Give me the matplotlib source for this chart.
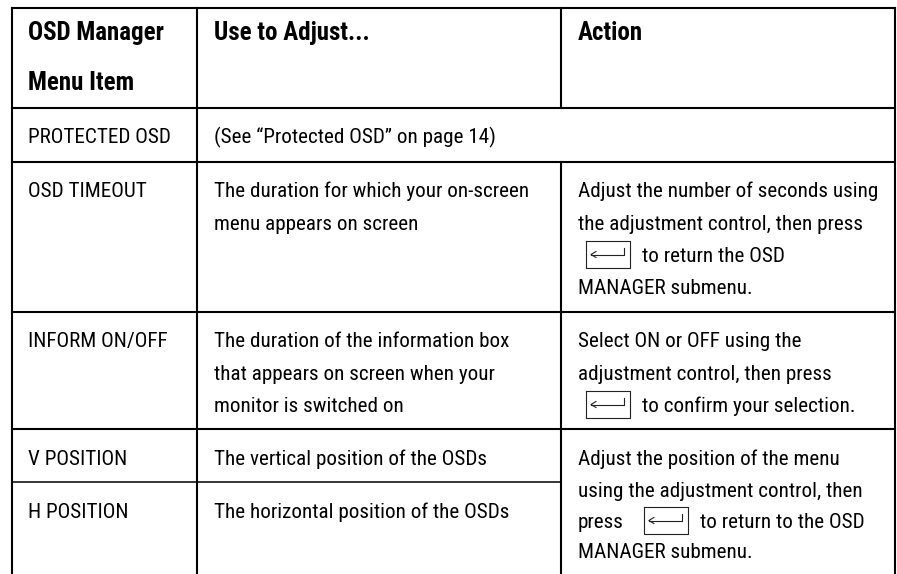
import matplotlib
matplotlib.use("Agg")
import matplotlib.pyplot as plt
from matplotlib import font_manager as fm

# ---------------- data ----------------
header_col1 = ["OSD Manager", "Menu Item"]
header_col2 = ["Use to Adjust..."]
header_col3 = ["Action"]

menu_items = ["PROTECTED OSD", "OSD TIMEOUT", "INFORM ON/OFF", "V POSITION", "H POSITION"]

adjust_text = [
    ["(See “Protected OSD” on page 14)"],
    ["The duration for which your on-screen", "menu appears on screen"],
    ["The duration of the information box", "that appears on screen when your",
     "monitor is switched on"],
    ["The vertical position of the OSDs"],
    ["The horizontal position of the OSDs"],
]

action_timeout = ["Adjust the number of seconds using", "the adjustment control, then press",
                  "{KEY} to return the OSD", "MANAGER submenu."]
action_inform = ["Select ON or OFF using the", "adjustment control, then press",
                 "{KEY} to confirm your selection."]
action_position = ["Adjust the position of the menu", "using the adjustment control, then",
                   "press {KEY} to return to the OSD", "MANAGER submenu."]

# ---------------- font ----------------
names = {f.name for f in fm.fontManager.ttflist}
FAM, STRETCH = "DejaVu Sans", "condensed"
for cand in ["Roboto Condensed", "Liberation Sans Narrow", "Open Sans Condensed"]:
    if cand in names:
        FAM, STRETCH = cand, "normal"
        break

W, H = 897, 574
fig = plt.figure(figsize=(W / 100, H / 100), dpi=100)
ax = fig.add_axes([0, 0, 1, 1])
ax.set_xlim(0, W)
ax.set_ylim(H, 0)
ax.axis("off")
renderer = fig.canvas.get_renderer()


def width_px(s, size, weight="normal"):
    t = ax.text(0, 0, s, family=FAM, fontstretch=STRETCH, fontsize=size, fontweight=weight)
    w = t.get_window_extent(renderer).width
    t.remove()
    return w


REG = 10 * 144 / width_px("PROTECTED OSD", 10)
BOLD = 10 * 136 / width_px("OSD Manager", 10, "bold")


def put(x, y, s, bold=False):
    ax.text(x, y, s, family=FAM, fontstretch=STRETCH, fontsize=BOLD if bold else REG,
            fontweight="bold" if bold else "normal", va="baseline", ha="left", color="black")


def key(x0, base):
    top, bot = base - 21, base + 6
    ax.plot([x0, x0 + 44, x0 + 44, x0, x0], [top, top, bot, bot, top], color="#222222", lw=0.8)
    ya = (top + bot) / 2
    ax.plot([x0 + 5, x0 + 38, x0 + 38], [ya, ya, ya - 7], color="#222222", lw=0.8)
    ax.plot([x0 + 10, x0 + 5, x0 + 10], [ya - 3, ya, ya + 3], color="#222222", lw=0.8)


def put_line(x, y, s):
    parts = s.split("{KEY}")
    cur = x
    for i, p in enumerate(parts):
        p = p.strip()
        if p:
            put(cur, y, p)
            cur += width_px(p, REG)
        if i < len(parts) - 1:
            gap = 8 if cur == x else 20
            key(cur + gap, y)
            cur = cur + gap + 44 + 12


# ---------------- grid ----------------
LW = 1.5
X0, X1, X2, X3 = 12, 197, 561, 895
Y = [8, 108, 162, 312, 429, 482]
kw = dict(color="black", lw=LW, solid_capstyle="projecting")
for y in Y[:5]:
    ax.plot([X0, X3], [y, y], **kw)
ax.plot([X0, X2], [Y[5], Y[5]], color="black", lw=1.1)
ax.plot([X0, X0], [Y[0], H + 2], **kw)
ax.plot([X1, X1], [Y[0], H + 2], **kw)
ax.plot([X2, X2], [Y[0], Y[1]], **kw)
ax.plot([X2, X2], [Y[2], H + 2], **kw)
ax.plot([X3, X3], [Y[0], H + 2], **kw)

# ---------------- text ----------------
C1, C2, C3 = 28, 214, 578
put(C1, 40, header_col1[0], True)
put(C1, 90, header_col1[1], True)
put(C2, 40, header_col2[0], True)
put(C3, 40, header_col3[0], True)

item_base = [143, 197, 347, 465, 518]
for it, b, lines in zip(menu_items, item_base, adjust_text):
    put(C1, b, it)
    for k, ln in enumerate(lines):
        put(C2, b + k * 32.5, ln)

for k, ln in enumerate(action_timeout):
    put_line(C3, 197 + k * 32.5, ln)
for k, ln in enumerate(action_inform):
    put_line(C3, 347 + k * 32.5, ln)
pos_base = [465, 497, 528, 558]
for b, ln in zip(pos_base, action_position):
    put_line(C3, b, ln)

fig.savefig("out.png", dpi=100, facecolor="white")
